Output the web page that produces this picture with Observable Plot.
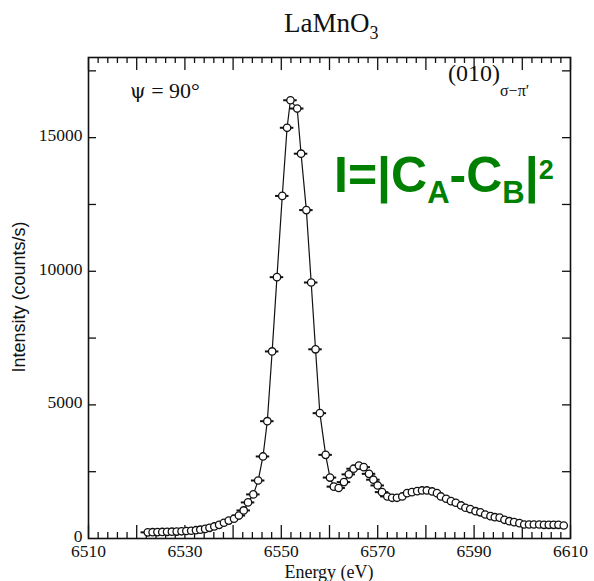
<!DOCTYPE html>
<html>
<head>
<meta charset="utf-8">
<script src="https://cdn.jsdelivr.net/npm/d3@7"></script>
<script src="https://cdn.jsdelivr.net/npm/@observablehq/plot@0.6"></script>
<style>
  html, body { margin: 0; padding: 0; background: #fff; }
  #chart { width: 594px; height: 581px; }
</style>
</head>
<body>
<div id="chart"></div>
<script>
// ---- data ----
const energy = [
  6522.3, 6523.3, 6524.3, 6525.3, 6526.3, 6527.3, 6528.3, 6529.3, 6530.3, 6531.3,
  6532.3, 6533.2, 6534.2, 6535.1, 6536.1, 6537.1, 6538.1, 6539.1, 6540.2, 6541.2,
  6542.2, 6543.1, 6544.2, 6545.2, 6546.2, 6547.1, 6548.1, 6549.1, 6550.2, 6551.2,
  6551.9, 6553.3, 6554.1, 6555.2, 6556.2, 6557.1, 6558.0, 6559.2, 6560.1, 6560.9,
  6561.9, 6563.0, 6564.0, 6565.0, 6566.1, 6567.1, 6568.2, 6569.1, 6570.0, 6570.9,
  6572.0, 6573.0, 6574.0, 6575.1, 6576.1, 6577.1, 6578.2, 6579.2, 6580.2, 6581.3,
  6582.3, 6583.1, 6584.2, 6585.2, 6586.2, 6587.3, 6588.2, 6589.2, 6590.3, 6591.3,
  6592.3, 6593.4, 6594.3, 6595.3, 6596.3, 6597.3, 6598.3, 6599.4, 6600.4, 6601.4,
  6602.4, 6603.5, 6604.5, 6605.5, 6606.5, 6607.5, 6608.6
];
const intensity = [
  230, 235, 240, 245, 250, 255, 260, 270, 280, 290,
  310, 330, 360, 400, 450, 510, 590, 670, 740, 860,
  1050, 1350, 1650, 2170, 3070, 4390, 7000, 9780, 12820, 15370,
  16400, 16090, 14400, 12290, 9580, 7080, 4690, 3130, 2280, 1940,
  1890, 2110, 2400, 2610, 2730, 2670, 2420, 2200, 1985, 1735,
  1573, 1524, 1524, 1573, 1697, 1734, 1772, 1798, 1798, 1760,
  1697, 1573, 1487, 1397, 1337, 1236, 1150, 1100, 1022, 980,
  899, 836, 798, 780, 700, 648, 611, 574, 524, 524,
  524, 524, 512, 512, 512, 512, 487
];
const energyError = 1.4;      // half-width of horizontal error bars (eV)
const errorBarsBelow = 6573;  // error bars drawn for points below this energy

const xTickLabels = [6510, 6530, 6550, 6570, 6590, 6610];
const yTickLabels = [0, 5000, 10000, 15000];
const xMajorTicks = d3.range(6510, 6611, 10);
const xMinorTicks = d3.range(6510, 6611, 2).filter(v => (v - 6510) % 10 !== 0);
const yMajorTicks = d3.range(2500, 18000, 2500);

const title = "LaMnO";
const titleSub = "3";
const xLabel = "Energy (eV)";
const yLabel = "Intensity (counts/s)";

// ---- layout ----
const W = 594, H = 581;
const mL = 88, mR = 24, mT = 57, mB = 43;
const fW = W - mL - mR, fH = H - mT - mB;

const data = energy.map((e, i) => ({x: e, y: intensity[i]}));
const errData = data.filter(d => d.x < errorBarsBelow);

const serif = "Liberation Serif";
const sans = "Liberation Sans";

const plot = Plot.plot({
  width: W, height: H,
  marginLeft: mL, marginRight: mR, marginTop: mT, marginBottom: mB,
  x: {domain: [6510, 6610], axis: null},
  y: {domain: [0, 18000], axis: null},
  style: {background: "#fff", color: "#111"},
  marks: [
    // tick labels (serif, as in the reference)
    Plot.text(xTickLabels, {x: d => d, text: d => String(d), frameAnchor: "bottom", dy: 18,
      fontFamily: serif, fontSize: 17.5, fill: "#111"}),
    Plot.text(yTickLabels, {y: d => d, text: d => String(d), frameAnchor: "left", dx: -6, dy: -2, textAnchor: "end",
      fontFamily: serif, fontSize: 17.5, fill: "#111"}),
    // inward ticks: bottom & top
    Plot.tickX(xMajorTicks, {x: d => d, insetTop: fH - 13, stroke: "#111", strokeWidth: 1.3}),
    Plot.tickX(xMinorTicks, {x: d => d, insetTop: fH - 6, stroke: "#111", strokeWidth: 1.3}),
    Plot.tickX(xMajorTicks, {x: d => d, insetBottom: fH - 13, stroke: "#111", strokeWidth: 1.3}),
    Plot.tickX(xMinorTicks, {x: d => d, insetBottom: fH - 6, stroke: "#111", strokeWidth: 1.3}),
    // inward ticks: left & right
    Plot.tickY(yMajorTicks, {y: d => d, insetRight: fW - 8, stroke: "#111", strokeWidth: 1.3}),
    Plot.tickY(yMajorTicks, {y: d => d, insetLeft: fW - 8, stroke: "#111", strokeWidth: 1.3}),
    Plot.frame({stroke: "#111", strokeWidth: 1.6}),
    // data
    Plot.line(data, {x: "x", y: "y", stroke: "#111", strokeWidth: 1.2}),
    Plot.ruleY(errData, {y: "y", x1: d => d.x - energyError, x2: d => d.x + energyError, stroke: "#111", strokeWidth: 2}),
    Plot.dot(data, {x: "x", y: "y", r: 3.7, fill: "#fff", stroke: "#111", strokeWidth: 1.3})
  ]
});

document.getElementById("chart").appendChild(plot);

const svg = d3.select(plot);

// ---- annotations (real text) ----
function addText(x, y, family, size, anchor) {
  return svg.append("text")
    .attr("x", x).attr("y", y)
    .attr("font-family", family).attr("font-size", size)
    .attr("text-anchor", anchor || "start").attr("fill", "#111");
}

// title
const t = addText(284, 32, serif, 27);
t.append("tspan").text(title);
t.append("tspan").attr("font-size", 18).attr("dy", 7).text(titleSub);

// x label
addText(mL + fW / 2, 578, serif, 18, "middle").text(xLabel);

// y label
svg.append("text")
  .attr("transform", `translate(25, 297) rotate(-90)`)
  .attr("text-anchor", "middle")
  .attr("font-family", sans).attr("font-size", 18).attr("fill", "#111")
  .text(yLabel);

// psi annotation
const p = addText(130, 98, serif, 22);
p.append("tspan").attr("font-family", "DejaVu Serif").attr("font-size", 20).text("ψ");
p.append("tspan").text(" = 90°");

// reflection label
const r = addText(448, 81, serif, 24);
r.append("tspan").text("(010)");
r.append("tspan").attr("font-size", 16).attr("dy", 15).text("σ−π′");

// green formula
const g = addText(334, 192, sans, 50).attr("font-weight", "bold").attr("fill", "#008000");
g.append("tspan").text("I=|C");
g.append("tspan").attr("font-size", 31).attr("dy", 11).text("A");
g.append("tspan").attr("font-size", 50).attr("dy", -11).text("-C");
g.append("tspan").attr("font-size", 31).attr("dy", 11).text("B");
g.append("tspan").attr("font-size", 50).attr("dy", -11).text("|");
g.append("tspan").attr("font-size", 27).attr("dy", -13).text("2");
</script>
</body>
</html>
